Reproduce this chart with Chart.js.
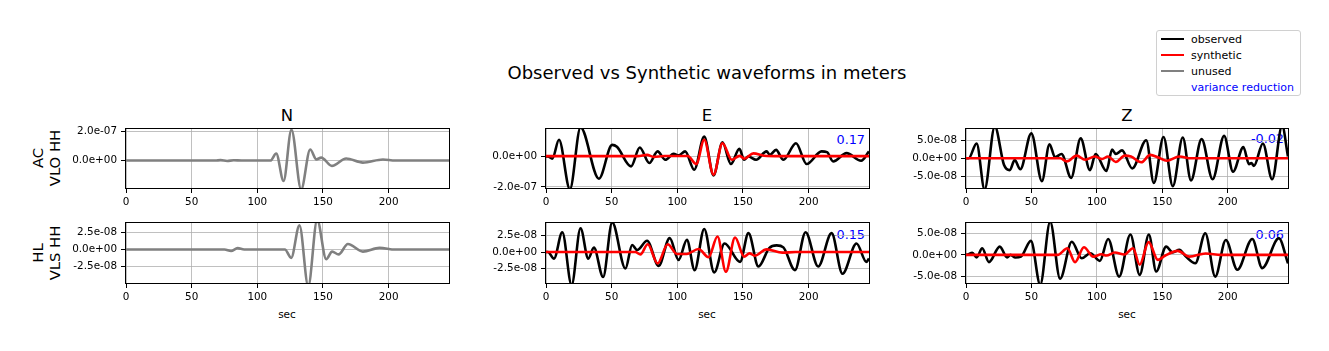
<!DOCTYPE html>
<html>
<head>
<meta charset="utf-8">
<script src="https://cdn.jsdelivr.net/npm/chart.js@4.4.0/dist/chart.umd.min.js"></script>
<style>
  body { margin: 0; background: #fff; width: 1329px; height: 351px; position: relative; overflow: hidden;
         font-family: "DejaVu Sans", sans-serif; color: #000; }
  canvas { position: absolute; }
  .t { position: absolute; white-space: nowrap; transform: translate(-50%, -50%); }
  .vr { position: absolute; white-space: nowrap; color: #0000ff; font-size: 12.8px; transform: translate(-100%, -50%); }
  .row { position: absolute; text-align: center; font-size: 14.8px; line-height: 1.15; white-space: nowrap;
         transform: translate(-50%, -50%) rotate(-90deg); }
  .legend { position: absolute; left: 1156px; top: 30px; width: 143px; height: 64px; border: 1px solid #d0d0d0;
            border-radius: 3px; font-size: 11px; }
  .legend div { position: absolute; left: 34px; white-space: nowrap; transform: translateY(-50%); }
  .legend span { position: absolute; left: 4px; width: 23px; height: 2px; }
</style>
</head>
<body>
<div class="t" style="left:707px;top:72px;font-size:18px;">Observed vs Synthetic waveforms in meters</div>
<div class="t" style="left:287px;top:115px;font-size:16.5px;">N</div>
<div class="t" style="left:707px;top:115px;font-size:16.5px;">E</div>
<div class="t" style="left:1127px;top:115px;font-size:16.5px;">Z</div>
<div class="row" style="left:46px;top:158px;">AC<br>VLO HH</div>
<div class="row" style="left:46px;top:253px;">HL<br>VLS HH</div>
<div class="t" style="left:287px;top:314px;font-size:10.5px;">sec</div>
<div class="t" style="left:707px;top:314px;font-size:10.5px;">sec</div>
<div class="t" style="left:1127px;top:314px;font-size:10.5px;">sec</div>
<div class="vr" style="left:865px;top:139px;">0.17</div>
<div class="vr" style="left:1284px;top:138px;">-0.02</div>
<div class="vr" style="left:865px;top:234px;">-0.15</div>
<div class="vr" style="left:1284px;top:234px;">0.06</div>
<div class="legend">
  <span style="top:7px;background:#000;"></span><div style="top:8px;">observed</div>
  <span style="top:23px;background:#ff0000;"></span><div style="top:24px;">synthetic</div>
  <span style="top:39px;background:#808080;"></span><div style="top:40px;">unused</div>
  <div style="top:56px;color:#0000ff;">variance reduction</div>
</div>
<script>
// time in sec, amplitude in units of 1e-8 m, read at the peaks and troughs of each trace
const X_MAX = 246;
const X_TICKS = [0, 50, 100, 150, 200];

// AC VLO HH
const AC_N_t = [0, 68, 72, 77, 82, 88, 110, 114.4, 120, 126, 133.4, 140.3, 145, 148.7, 156.8, 167.7, 180.4, 195.7, 205, 246];
const AC_N_unused = [0, 0, 0.3, -0.3, 0.2, 0, 0, 4.8, -13.9, 20.9, -19.5, 7.5, 0.8, 2, -3.6, 1.4, -1.4, 0.7, 0, 0];

const AC_E_obs_t = [0, 1.5, 4.8, 9.9, 18.2, 26.3, 40.3, 50.4, 54, 64.8, 71.4, 78.7, 85, 90.9, 97.2, 101, 106, 112.9, 120.5, 127.6,
  134.4, 140.8, 147.3, 150.9, 154, 160, 168, 170.5, 175.2, 180.8, 190.4, 198.5, 209.9, 214, 218.7, 228.9, 240, 246];
const AC_E_obs = [0, 0, -1.5, 10.9, -21.5, 19, -14.6, 7.6, 6.3, -6.5, 5.9, -4.3, 3.3, -2.2, 1.7, 0.7, 3.3, -8.7, 13, -12.4,
  9.3, -5, 5, -2.2, 0, -2.2, 3.3, 1, 4.3, -2.2, 8.7, -5, 3.3, 2.8, -3.3, 2.2, -2.8, 3.3];
const AC_E_syn_t = [0, 70, 77, 82, 90, 108, 114.4, 120.5, 127.6, 134.4, 141.5, 147.5, 151, 158, 166, 178, 246];
const AC_E_syn = [0.2, 0.2, 1, -0.3, 0.3, 0.3, -5, 10.9, -12, 8.7, -2.2, 0.4, -1.5, 2, 0.5, 0.2, 0.2];

const AC_Z_obs_t = [0, 2, 8.1, 14.2, 22, 29, 33.4, 37.2, 41.5, 49.9, 58, 63.8, 68, 73, 80.3, 87.6, 94.7, 99, 107.3, 111.6,
  114.5, 119.2, 127, 137.7, 143.5, 150.9, 158, 165.6, 171.9, 180, 188.4, 197.2, 204, 211.9, 216.2, 218, 220, 226.8, 233.9, 241.5, 246];
const AC_Z_obs = [0, 0, 4.1, -8.6, 8.8, -1.8, -3.3, -0.5, -3.0, 6.9, -6.3, 3.9, 0.3, 1.2, -5.4, 5.5, -3.3, 1.2, -3.5, 2.4,
  1.2, 2.2, -2.8, 5.0, -6.8, 5.9, -7.7, 5.75, -6.1, 5.3, -5.8, 6.2, -3.7, 3.1, -1.6, -1.3, -2.1, 4.1, -5.8, 9, 0.5];
const AC_Z_syn_t = [0, 68, 72, 77, 84.6, 91, 98.5, 104, 108.5, 114.4, 121.3, 126, 133.9, 140.8, 147, 153.4, 163, 172, 246];
const AC_Z_syn = [0, 0, 0, -0.85, 0.75, -0.4, 0.5, -0.2, 0.5, -1.0, 0.75, 0.5, -1.1, 0.95, 0.2, -0.66, 0.5, 0, 0];

// HL VLS HH
const HL_N_t = [0, 75, 80, 85, 90, 121, 125.8, 132.1, 138.8, 145.6, 152.5, 157, 161.9, 169, 180.4, 193.1, 205, 246];
const HL_N_unused = [0, 0, -0.2, 0.2, 0, 0, -1.2, 3.5, -5.3, 4.3, -1.4, -0.3, -0.7, 0.8, -0.3, 0.25, 0, 0];

const HL_E_obs_t = [0, 1.5, 6.1, 12.4, 19.5, 26.3, 32.2, 36.5, 43.5, 50.4, 60.5, 65.6, 69.4, 77, 85.8, 94.2, 101, 107.3, 113.2, 120.5,
  128.1, 136, 147.8, 154.2, 161.8, 170, 175.7, 180.8, 189.6, 197.7, 207.3, 217.5, 225.8, 236.5, 244, 246];
const HL_E_obs = [0, 0, -1, 3.0, -5, 3.6, -1, 0.66, -3.8, 4.5, -2.5, 1.07, 0.3, 1.7, -2.1, 2.1, -1.2, 1.84, -2.75, 3.5,
  -3.1, 1.3, -1.5, 2.86, -2.2, 0.6, 1.0, 0.7, -2.75, 3.0, -2.2, 2.86, -3.3, 1.3, -1.5, -1.0];
const HL_E_syn_t = [0, 68, 71.9, 77.5, 85, 92.7, 99.7, 107, 116.2, 123.8, 130.6, 137, 144, 150.9, 155, 159, 168, 180, 190, 246];
const HL_E_syn = [0, 0, -0.36, 1.17, -1.73, 1.17, -0.3, -0.3, 0.46, -0.8, 2.35, -3.0, 2.2, -0.7, -0.2, -0.56, 0.4, -0.1, 0, 0];

const HL_Z_obs_t = [0, 1.5, 4.8, 8.1, 12.4, 17.5, 25.8, 31.4, 34, 37.7, 42, 49.6, 56.7, 64.3, 71.9, 80.8, 88.4, 95, 102.3, 108.6,
  117, 125.6, 132.7, 139.7, 145.3, 152.9, 157.9, 163, 168, 175.2, 182.8, 190.4, 198.5, 207.3, 218.7, 226.3, 239, 246];
const HL_Z_obs = [0, 0.1, 0.5, -0.6, 1.56, -1.7, 1.95, -0.6, 0, -0.6, -0.4, 3.3, -7, 7.8, -5.6, 3.1, -0.8, 0.4, -1.4, 3.75,
  -5.1, 4.8, -4.7, 4.8, -3.9, 1.95, 0.6, 1.2, -0.4, -1.95, 5.1, -5.1, 3.5, -3.5, 3.75, -3.1, 3.9, -2.0];
const HL_Z_syn_t = [0, 70, 77.5, 83.3, 90.1, 97.2, 103.5, 107.3, 113.7, 121, 127.6, 132.7, 139.5, 146.6, 152, 161.8, 170.6, 183, 195, 246];
const HL_Z_syn = [0, 0, 1.56, -1.7, 1.8, -0.4, 0.15, -0.15, 0.55, 0.1, 1.56, -2.3, 3.0, -1.17, -0.2, 0.94, -0.4, 0.35, 0, 0];

// y limits and tick values per panel (1e-8 m)
const AC_N_ylim = [-18.6, 21.4], AC_N_yticks = [0, 20];
const AC_E_ylim = [-20.7, 18.0], AC_E_yticks = [-20, 0];
const AC_Z_ylim = [-8.2, 8.1], AC_Z_yticks = [-5, 0, 5];
const HL_N_ylim = [-4.85, 3.85], HL_N_yticks = [-2.5, 0, 2.5];
const HL_E_ylim = [-4.7, 4.4], HL_E_yticks = [-2.5, 0, 2.5];
const HL_Z_ylim = [-6.6, 7.5], HL_Z_yticks = [-5, 0, 5];

const OBS = '#000000', SYN = '#ff0000', UNUSED = '#808080';
const tickFont = { family: 'DejaVu Sans', size: 10.4 };

// matplotlib style exponent label, e.g. 2.5e-08
function sci(v) {
  const val = v * 1e-8;
  if (Math.abs(val) < 1e-15) return '0.0e+00';
  const [m, e] = val.toExponential(1).split('e');
  const n = parseInt(e, 10);
  return m + 'e' + (n < 0 ? '-' : '+') + String(Math.abs(n)).padStart(2, '0');
}

// box around the axes like matplotlib spines
const frame = {
  id: 'frame',
  afterDraw(chart) {
    const { ctx, chartArea: a } = chart;
    ctx.save();
    ctx.strokeStyle = '#000';
    ctx.lineWidth = 1;
    ctx.strokeRect(a.left - 0.5, a.top - 0.5, a.right - a.left + 1, a.bottom - a.top + 1);
    ctx.restore();
  }
};

function trace(t, v, color) {
  return {
    data: t.map((x, i) => ({ x: x, y: v[i] })),
    borderColor: color,
    borderWidth: 2.6,
    pointRadius: 0,
    fill: false,
    clip: 0,
    cubicInterpolationMode: 'monotone'
  };
}

function panel(box, ylim, yticks, datasets) {
  const cv = document.createElement('canvas');
  cv.width = box.w + 112;
  cv.height = box.h + 40;
  document.body.appendChild(cv);
  const grid = { color: '#b0b0b0', lineWidth: 0.8, tickColor: '#000', tickLength: 5, tickWidth: 1 };
  const chart = new Chart(cv, {
    type: 'line',
    data: { datasets: datasets },
    options: {
      responsive: false,
      maintainAspectRatio: false,
      animation: false,
      layout: { padding: { top: 12, right: 12, left: 0, bottom: 0 } },
      plugins: { legend: { display: false }, tooltip: { enabled: false } },
      scales: {
        x: {
          type: 'linear', min: 0, max: X_MAX,
          afterFit: s => { s.height = 28; },
          afterBuildTicks: s => { s.ticks = X_TICKS.map(v => ({ value: v })); },
          ticks: { color: '#000', font: tickFont, padding: 3, maxRotation: 0 },
          grid: grid,
          border: { display: false }
        },
        y: {
          type: 'linear', min: ylim[0], max: ylim[1],
          afterFit: s => { s.width = 100; },
          afterBuildTicks: s => { s.ticks = yticks.map(v => ({ value: v })); },
          ticks: { color: '#000', font: tickFont, padding: 4, callback: v => sci(v) },
          grid: grid,
          border: { display: false }
        }
      }
    },
    plugins: [frame]
  });
  const a = chart.chartArea;
  cv.style.left = (box.x - a.left) + 'px';
  cv.style.top = (box.y - a.top) + 'px';
  return chart;
}

const colX = [126, 546, 966], colW = [323, 323, 322];
const rowY = [129, 223], rowH = [59, 60];
const box = (r, c) => ({ x: colX[c], y: rowY[r], w: colW[c], h: rowH[r] });

panel(box(0, 0), AC_N_ylim, AC_N_yticks, [trace(AC_N_t, AC_N_unused, UNUSED)]);
panel(box(0, 1), AC_E_ylim, AC_E_yticks, [trace(AC_E_syn_t, AC_E_syn, SYN), trace(AC_E_obs_t, AC_E_obs, OBS)]);
panel(box(0, 2), AC_Z_ylim, AC_Z_yticks, [trace(AC_Z_syn_t, AC_Z_syn, SYN), trace(AC_Z_obs_t, AC_Z_obs, OBS)]);
panel(box(1, 0), HL_N_ylim, HL_N_yticks, [trace(HL_N_t, HL_N_unused, UNUSED)]);
panel(box(1, 1), HL_E_ylim, HL_E_yticks, [trace(HL_E_syn_t, HL_E_syn, SYN), trace(HL_E_obs_t, HL_E_obs, OBS)]);
panel(box(1, 2), HL_Z_ylim, HL_Z_yticks, [trace(HL_Z_syn_t, HL_Z_syn, SYN), trace(HL_Z_obs_t, HL_Z_obs, OBS)]);
</script>
</body>
</html>
